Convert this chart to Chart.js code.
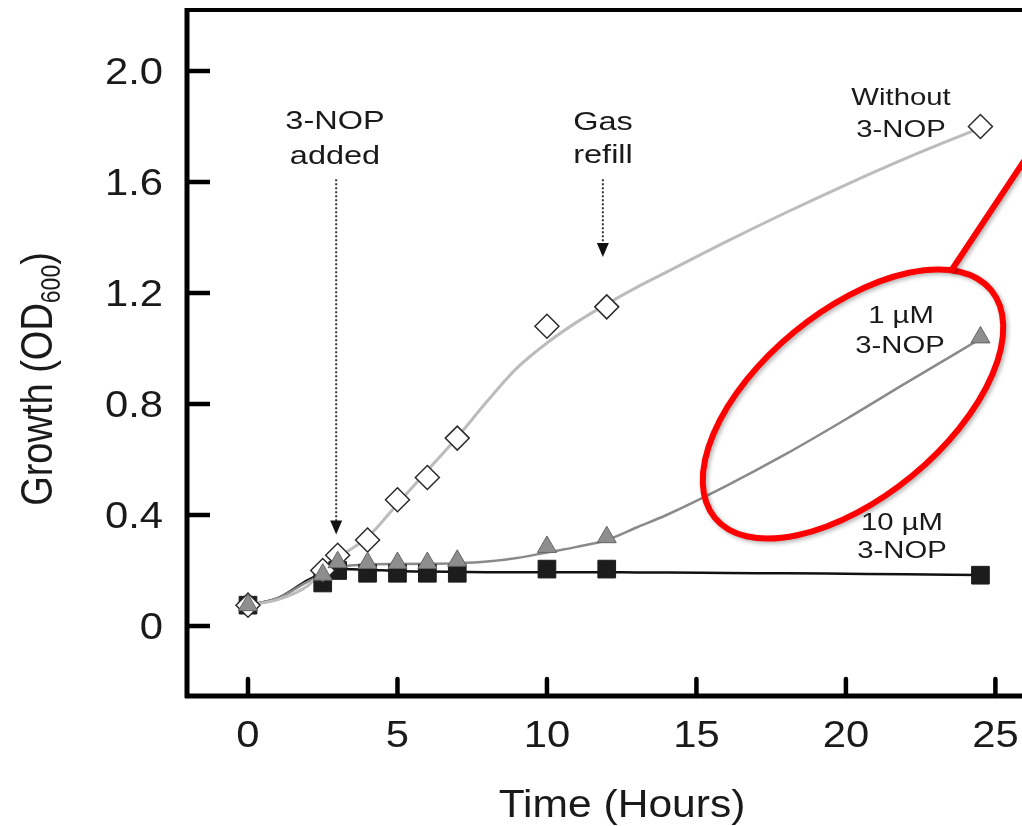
<!DOCTYPE html>
<html>
<head>
<meta charset="utf-8">
<title>Growth (OD600) with 3-NOP</title>
<script src="https://cdn.jsdelivr.net/npm/chart.js@4.4.1/dist/chart.umd.min.js"></script>
<style>
  html, body { margin: 0; padding: 0; background: #fff; overflow: hidden; }
  #wrap { width: 1022px; height: 826px; position: relative; }
</style>
</head>
<body>
<div id="wrap"><canvas id="grafico"></canvas></div>
<script>
// Datos medidos (horas / OD600)
const horas = [0, 2.5, 3, 4, 5, 6, 7, 10, 12, 24.5]
const odSin = [0.075, 0.2, 0.255, 0.31, 0.455, 0.535, 0.677, 1.08, 1.15, 1.8]
const od1uM = [0.075, 0.185, 0.23, 0.227, 0.227, 0.227, 0.235, 0.285, 0.32, 1.04]
const od10uM = [0.075, 0.155, 0.2, 0.19, 0.19, 0.19, 0.19, 0.205, 0.205, 0.183]

// Curvas ajustadas
const horasAjuste = [0, 1, 2, 2.5, 3, 4, 5, 6, 7, 8, 9, 10, 11, 12, 13, 14, 16, 18, 20, 22, 24.5]
const ajusteSin = [0.075, 0.095, 0.145, 0.2, 0.245, 0.32, 0.44, 0.56, 0.68, 0.81, 0.93, 1.02, 1.095, 1.16, 1.22, 1.275, 1.385, 1.49, 1.59, 1.685, 1.795]
const ajuste1uM = [0.075, 0.1, 0.16, 0.185, 0.21, 0.222, 0.223, 0.224, 0.226, 0.232, 0.245, 0.265, 0.285, 0.31, 0.355, 0.4, 0.505, 0.62, 0.745, 0.875, 1.035]
const ajuste10uM = [0.075, 0.1, 0.165, 0.19, 0.205, 0.203, 0.198, 0.196, 0.195, 0.194, 0.194, 0.194, 0.194, 0.194, 0.193, 0.193, 0.191, 0.19, 0.188, 0.186, 0.184]

// Marcas de los ejes
const ticksX = [0, 5, 10, 15, 20, 25]
const ticksY = [0, 0.4, 0.8, 1.2, 1.6, 2.0]
const etiquetasY = ["0", "0.4", "0.8", "1.2", "1.6", "2.0"]

const FUENTE = '"Liberation Sans", Arial, sans-serif'
const puntos = (xs, ys) => xs.map((x, i) => ({ x: x, y: ys[i] }))

// Texto con ensanchamiento horizontal (la figura original está estirada)
function texto(ctx, str, x, y, size, estirar, alinear) {
  ctx.save()
  ctx.translate(x, y)
  ctx.scale(estirar, 1)
  ctx.font = size + "px " + FUENTE
  ctx.textAlign = alinear || "center"
  ctx.textBaseline = "alphabetic"
  ctx.fillStyle = "#1a1a1a"
  ctx.fillText(str, 0, 0)
  ctx.restore()
}

// Flecha punteada vertical
function flecha(ctx, x, y1, y2) {
  ctx.save()
  ctx.strokeStyle = "#333"
  ctx.lineWidth = 2
  ctx.setLineDash([2, 2])
  ctx.beginPath()
  ctx.moveTo(x, y1)
  ctx.lineTo(x, y2 - 12)
  ctx.stroke()
  ctx.setLineDash([])
  ctx.fillStyle = "#111"
  ctx.beginPath()
  ctx.moveTo(x - 6, y2 - 14)
  ctx.lineTo(x + 6, y2 - 14)
  ctx.lineTo(x, y2)
  ctx.closePath()
  ctx.fill()
  ctx.restore()
}

const decoracion = {
  id: "decoracion",
  afterDraw(chart) {
    const ctx = chart.ctx
    const a = chart.chartArea
    const sx = chart.scales.x
    const sy = chart.scales.y

    // Ejes y borde superior
    ctx.save()
    ctx.strokeStyle = "#000"
    ctx.lineWidth = 5
    ctx.beginPath()
    ctx.moveTo(a.left, a.top - 2)
    ctx.lineTo(a.left, a.bottom + 2)
    ctx.moveTo(a.left - 2, a.bottom)
    ctx.lineTo(a.right, a.bottom)
    ctx.stroke()
    ctx.lineWidth = 4
    ctx.beginPath()
    ctx.moveTo(a.left - 2, a.top)
    ctx.lineTo(a.right, a.top)
    ctx.stroke()

    // Marcas hacia adentro
    ctx.lineWidth = 4.5
    ctx.lineCap = "round"
    ctx.beginPath()
    ticksX.forEach((v) => {
      const px = sx.getPixelForValue(v)
      ctx.moveTo(px, a.bottom)
      ctx.lineTo(px, a.bottom - 17)
    })
    ctx.stroke()
    ctx.lineCap = "butt"
    ctx.beginPath()
    ticksY.forEach((v) => {
      const py = sy.getPixelForValue(v)
      ctx.moveTo(a.left, py)
      ctx.lineTo(a.left + 23, py)
    })
    ctx.stroke()
    ctx.restore()

    // Etiquetas de los ejes
    ticksX.forEach((v) => {
      texto(ctx, String(v), sx.getPixelForValue(v), a.bottom + 51, 37, 1.13)
    })
    ticksY.forEach((v, i) => {
      texto(ctx, etiquetasY[i], a.left - 24, sy.getPixelForValue(v) + 13, 37, 1.13, "right")
    })

    // Título eje X
    texto(ctx, "Time (Hours)", 622, 817, 38, 1.12)

    // Título eje Y con subíndice
    ctx.save()
    ctx.translate(52, 379)
    ctx.scale(1.18, 1)
    ctx.rotate(-Math.PI / 2)
    ctx.fillStyle = "#1a1a1a"
    ctx.textBaseline = "alphabetic"
    ctx.textAlign = "left"
    const f1 = "38px " + FUENTE
    const f2 = "23px " + FUENTE
    ctx.font = f1
    const w1 = ctx.measureText("Growth (OD").width
    const w3 = ctx.measureText(")").width
    ctx.font = f2
    const w2 = ctx.measureText("600").width
    let x0 = -(w1 + w2 + w3) / 2
    ctx.font = f1
    ctx.fillText("Growth (OD", x0, 0)
    ctx.font = f2
    ctx.fillText("600", x0 + w1, 7)
    ctx.font = f1
    ctx.fillText(")", x0 + w1 + w2, 0)
    ctx.restore()

    // Anotaciones
    texto(ctx, "3-NOP", 335, 129, 26, 1.25)
    texto(ctx, "added", 335, 164, 26, 1.25)
    flecha(ctx, sx.getPixelForValue(2.95), sy.getPixelForValue(1.61), sy.getPixelForValue(0.33))
    texto(ctx, "Gas", 603, 130, 26, 1.25)
    texto(ctx, "refill", 603, 163, 26, 1.25)
    flecha(ctx, sx.getPixelForValue(11.87), sy.getPixelForValue(1.61), sy.getPixelForValue(1.33))

    texto(ctx, "Without", 901, 105, 24, 1.22)
    texto(ctx, "3-NOP", 901, 137, 24, 1.22)
    texto(ctx, "1 \u00b5M", 901, 323, 24, 1.22)
    texto(ctx, "3-NOP", 900, 353, 24, 1.22)
    texto(ctx, "10 \u00b5M", 902, 530, 24, 1.22)
    texto(ctx, "3-NOP", 902, 558, 24, 1.22)

    // Elipse roja de resaltado
    ctx.save()
    ctx.strokeStyle = "#ff0000"
    ctx.lineWidth = 6
    ctx.shadowColor = "rgba(0, 0, 0, 0.3)"
    ctx.shadowBlur = 4
    ctx.shadowOffsetX = 2
    ctx.shadowOffsetY = 2
    ctx.beginPath()
    ctx.ellipse(853, 404, 179, 93, (-39.5 * Math.PI) / 180, 0, Math.PI * 2)
    ctx.stroke()
    ctx.beginPath()
    ctx.moveTo(951, 271)
    ctx.lineTo(1036, 143)
    ctx.stroke()
    ctx.restore()
  },
}

const ctxGrafico = document.getElementById("grafico").getContext("2d")
const grafico = new Chart(ctxGrafico, {
  type: "line",
  data: {
    datasets: [
      {
        label: "Without 3-NOP",
        data: puntos(horas, odSin),
        showLine: false,
        pointStyle: "rectRot",
        pointRadius: 12,
        backgroundColor: "#ffffff",
        borderColor: "#2a2a2a",
        borderWidth: 1.5,
        order: 2,
      },
      {
        label: "1 µM 3-NOP",
        data: puntos(horas, od1uM),
        showLine: false,
        pointStyle: "triangle",
        pointRadius: 11,
        backgroundColor: "#8e8e8e",
        borderColor: "#666666",
        borderWidth: 1,
        order: 1,
      },
      {
        label: "10 µM 3-NOP",
        data: puntos(horas, od10uM),
        showLine: false,
        pointStyle: "rect",
        pointRadius: 12.5,
        backgroundColor: "#1c1c1c",
        borderColor: "#1c1c1c",
        borderWidth: 1,
        order: 3,
      },
      {
        label: "ajuste sin",
        data: puntos(horasAjuste, ajusteSin),
        borderColor: "#bcbcbc",
        borderWidth: 3,
        pointRadius: 0,
        cubicInterpolationMode: "monotone",
        order: 10,
      },
      {
        label: "ajuste 1uM",
        data: puntos(horasAjuste, ajuste1uM),
        borderColor: "#8a8a8a",
        borderWidth: 2.5,
        pointRadius: 0,
        cubicInterpolationMode: "monotone",
        order: 11,
      },
      {
        label: "ajuste 10uM",
        data: puntos(horasAjuste, ajuste10uM),
        borderColor: "#111111",
        borderWidth: 2.5,
        pointRadius: 0,
        cubicInterpolationMode: "monotone",
        order: 12,
      },
    ],
  },
  options: {
    responsive: true,
    maintainAspectRatio: false,
    animation: false,
    layout: { autoPadding: false, padding: { top: 10, left: 0, right: 0, bottom: 0 } },
    plugins: {
      legend: { display: false },
      tooltip: { enabled: false },
    },
    scales: {
      x: {
        type: "linear",
        min: -2.04,
        max: 25.89,
        afterBuildTicks: (s) => {
          s.ticks = ticksX.map((v) => ({ value: v }))
        },
        afterFit: (s) => {
          s.height = 130
          s.paddingLeft = 0
          s.paddingRight = 0
        },
        grid: { display: false, drawTicks: false },
        border: { display: false },
        ticks: { display: false },
      },
      y: {
        type: "linear",
        min: -0.2523,
        max: 2.2198,
        afterBuildTicks: (s) => {
          s.ticks = ticksY.map((v) => ({ value: v }))
        },
        afterFit: (s) => {
          s.width = 187
          s.paddingTop = 0
          s.paddingBottom = 0
        },
        grid: { display: false, drawTicks: false },
        border: { display: false },
        ticks: { display: false },
      },
    },
  },
  plugins: [decoracion],
})
</script>
</body>
</html>
